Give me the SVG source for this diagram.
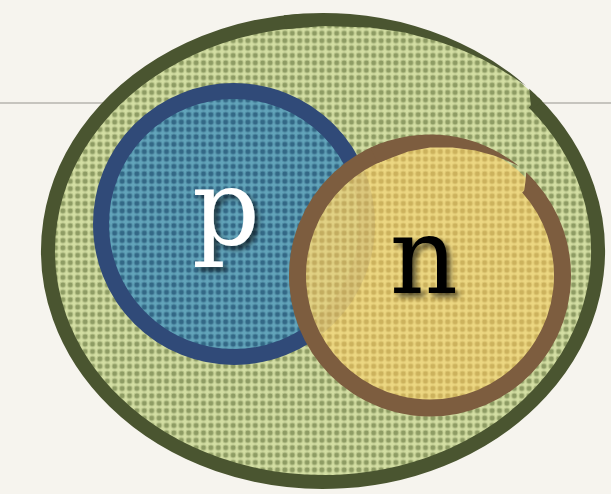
<svg xmlns="http://www.w3.org/2000/svg" width="611" height="494" viewBox="0 0 611 494">
<style>
.lbl{font-family:"DejaVu Serif","Liberation Serif",serif;font-size:106px;text-anchor:middle}
.g{fill:none;stroke:#4a5530;stroke-linecap:butt}
.gf{fill:#4a5530}
.b{fill:none;stroke:#7d5d3f;stroke-linecap:butt}
.bf{fill:#7d5d3f}
</style>
<defs>
<pattern id="dotG" patternUnits="userSpaceOnUse" width="7.4" height="7.4">
<rect width="7.4" height="7.4" fill="#d3dea3"/>
<circle cx="3.7" cy="3.7" r="3.2" fill="#94a26a" fill-opacity="0.45"/>
<circle cx="3.7" cy="3.7" r="2.3" fill="#8e9c64"/>
</pattern>
<pattern id="dotB" patternUnits="userSpaceOnUse" width="7.4" height="7.4">
<rect width="7.4" height="7.4" fill="#62a4ba"/>
<circle cx="3.7" cy="3.7" r="3.2" fill="#356a88" fill-opacity="0.45"/>
<circle cx="3.7" cy="3.7" r="2.3" fill="#336886"/>
</pattern>
<pattern id="dotY" patternUnits="userSpaceOnUse" width="7.4" height="7.4">
<rect width="7.4" height="7.4" fill="#efd67e"/>
<circle cx="3.7" cy="3.7" r="3.2" fill="#d4b65e" fill-opacity="0.45"/>
<circle cx="3.7" cy="3.7" r="2.3" fill="#d3b45c"/>
</pattern>
<filter id="sh" x="-30%" y="-30%" width="160%" height="160%">
<feDropShadow dx="4" dy="4" stdDeviation="2.5" flood-color="#000" flood-opacity="0.6"/>
</filter>
</defs>
<rect width="611" height="494" fill="#f6f4ee"/>
<line x1="0" y1="103" x2="611" y2="103" stroke="#c6c4be" stroke-width="2"/>
<g id="outer">
<ellipse cx="323" cy="251" rx="281" ry="237" fill="url(#dotG)"/>
<path class="g" stroke-width="14" d="M 533.65 102.51 A 275 231 0 1 1 299.03 20.88"/>
<path class="gf" d="M 283.75 15.31 A 282 238 0 0 1 525.84 85.66 L 514.3 78.02 L 498.76 68.15 L 482.46 59.31 L 461.25 49.65 L 439.2 41.64 L 405.1 32.6 L 370.05 27.45 L 323 26 L 285.69 29.17 Z"/>
<path class="gf" d="M 529.25 88.7 A 282 238 0 0 1 542.14 101.23 L 531.26 110.04 Q 530 97 529.25 88.7 Z"/>
</g>
<g id="p">
<circle cx="234" cy="224" r="133" fill="url(#dotB)" stroke="#304a78" stroke-width="16"/>
<text class="lbl" x="226" y="245" fill="#ffffff" filter="url(#sh)">p</text>
</g>
<g id="n">
<circle cx="430" cy="275.5" r="137" fill="url(#dotY)" fill-opacity="0.9"/>
<path class="b" stroke-width="17" d="M 528.46 186.85 A 132.5 132.5 0 1 1 384.69 150.99"/>
<path class="bf" d="M 370.41 147.71 A 141 141 0 0 1 518.73 165.93 L 507.45 160.68 L 493.85 155.43 L 475.49 150.52 L 452.57 147.48 L 430 147.5 L 408.13 151.42 L 377.6 163.12 Z"/>
<path class="bf" d="M 526.16 172.37 A 141 141 0 0 1 536.41 182.99 L 523.58 194.14 Q 526 180 526.16 172.37 Z"/>
<text class="lbl" x="424" y="293" fill="#000000" filter="url(#sh)">n</text>
</g>
<g id="connectors"/>
</svg>
